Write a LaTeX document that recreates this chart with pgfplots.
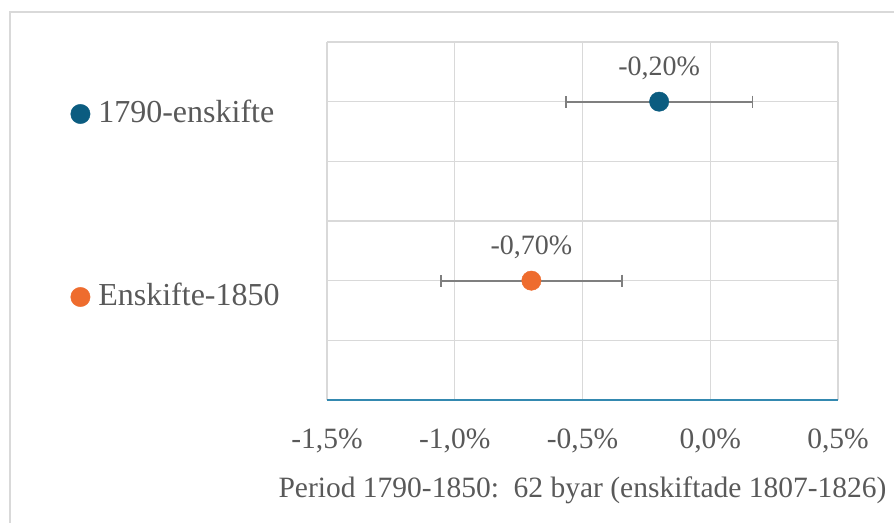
\documentclass[border=0pt]{standalone}
\usepackage{fontspec}
\setmainfont{Liberation Serif}
\usepackage{pgfplots}
\pgfplotsset{compat=1.18}
\definecolor{dblue}{HTML}{0B5C80}
\definecolor{orng}{HTML}{EE6C2E}
\definecolor{txt}{HTML}{595959}
\definecolor{grd}{HTML}{D9D9D9}
\definecolor{axl}{HTML}{3489B0}
\definecolor{ebar}{HTML}{7F7F7F}
\begin{document}
\begin{tikzpicture}[x=1pt,y=1pt]
\useasboundingbox (0,0) rectangle (894,522);
\draw[grd, line width=1.2pt] (10,-5) -- (10,510) -- (900,510);
\begin{axis}[
  at={(327pt,122pt)}, anchor=south west,
  scale only axis, width=511pt, height=358pt,
  xmin=-1.5, xmax=0.5, ymin=0, ymax=6,
  xtick={-1.5,-1,-0.5,0,0.5},
  xticklabels={{-1,5\%},{-1,0\%},{-0,5\%},{0,0\%},{0,5\%}},
  ytick={0,1,2,3,4,5,6}, yticklabels={},
  grid=major, major grid style={grd, line width=1.2pt},
  axis line style={draw=none},
  major tick length=0pt,
  tick label style={font=\fontsize{29.5}{35}\selectfont, text=txt},
  xticklabel style={yshift=-25pt},
  xlabel={Period 1790-1850:\ \ 62 byar (enskiftade 1807-1826)},
  xlabel style={at={(axis description cs:0.5,0)}, anchor=base, yshift=-97pt, font=\fontsize{29.5}{35}\selectfont, text=txt},
  clip=false,
  legend style={at={(axis description cs:-0.5023,0.838)}, anchor=north west, draw=none, fill=none, inner sep=0pt,
    row sep=154pt, column sep=8pt, font=\fontsize{32}{38}\selectfont, text=txt,
    nodes={inner sep=0pt, text height=22pt, text depth=7pt}},
  legend cell align=left,
  legend image code/.code={\fill[#1] (0pt,0.7pt) circle (9.7pt);},
  every node near coord/.append style={anchor=base, yshift=26pt, font=\fontsize{28}{34}\selectfont, text=txt},
]
\draw[axl, line width=2.8pt] (rel axis cs:0,0) -- (rel axis cs:1,0);
\addplot[only marks, mark=*, mark size=9.7pt, color=dblue, fill=dblue,
  nodes near coords={-0,20\%},
  error bars/.cd, x dir=both, x explicit,
  error bar style={ebar, line width=1.8pt},
  error mark options={ebar, line width=1.8pt, mark size=6pt, rotate=90}]
  coordinates {(-0.20,5) +- (0.365,0)};
\addlegendentry{1790-enskifte}
\addplot[only marks, mark=*, mark size=9.7pt, color=orng, fill=orng,
  nodes near coords={-0,70\%},
  error bars/.cd, x dir=both, x explicit,
  error bar style={ebar, line width=1.8pt},
  error mark options={ebar, line width=1.8pt, mark size=6pt, rotate=90}]
  coordinates {(-0.70,2) +- (0.355,0)};
\addlegendentry{Enskifte-1850}
\end{axis}
\end{tikzpicture}
\end{document}
